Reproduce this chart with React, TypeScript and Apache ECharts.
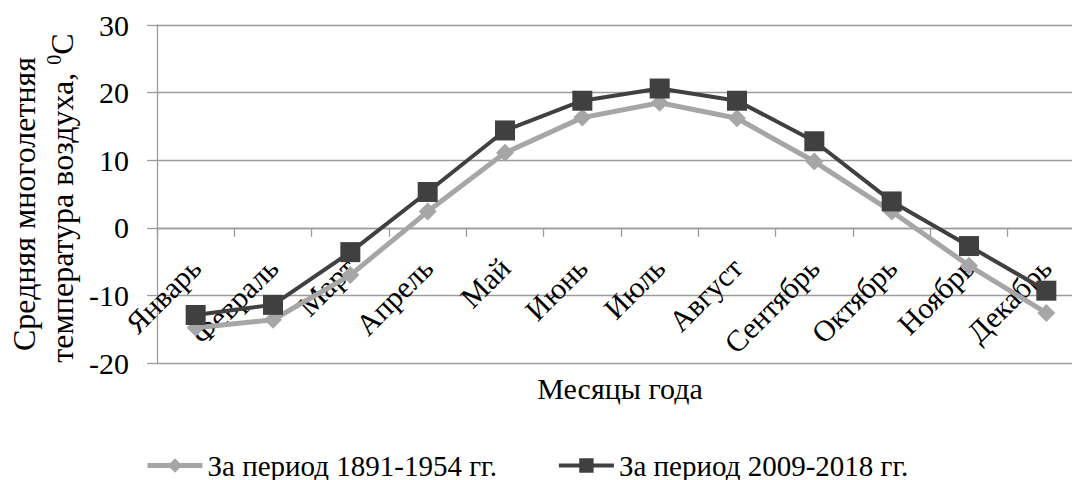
import React, { useEffect, useRef, useState } from "react";
import * as echarts from "echarts";

const months = ["Январь", "Февраль", "Март", "Апрель", "Май", "Июнь", "Июль", "Август", "Сентябрь", "Октябрь", "Ноябрь", "Декабрь"];
const period1 = [-14.8, -13.6, -7.0, 2.4, 11.1, 16.3, 18.5, 16.2, 9.8, 2.4, -5.6, -12.6];
const period2 = [-12.9, -11.4, -3.6, 5.3, 14.4, 18.8, 20.6, 18.8, 12.8, 3.9, -2.7, -9.3];
const seriesNames = ["За период 1891-1954 гг.", "За период 2009-2018 гг."];
const yTitle1 = "Средняя многолетняя";
const yTitle2 = "температура воздуха, ";
const xTitle = "Месяцы года";

const FONT = "Liberation Serif";
const GRAY = "#9c9c9c";
const LIGHT = "#a6a6a6";
const DARK = "#404040";

export default function App() {
  const ref = useRef<HTMLDivElement>(null);
  const [, setReady] = useState("");
  useEffect(() => {
    document.body.style.margin = "0";
    const chart = echarts.init(ref.current!, null, { renderer: "svg" });
    chart.setOption({
      animation: false,
      grid: { left: 157, top: 25, width: 928, height: 338, outerBoundsMode: "none" },
      xAxis: {
        type: "category",
        data: months,
        offset: -135.2,
        axisLine: { onZero: false, lineStyle: { color: GRAY, width: 1.3 } },
        axisTick: { show: true, interval: 0, length: 9, lineStyle: { color: GRAY, width: 1.3 } },
        axisLabel: { interval: 0, rotate: 45, margin: 35, fontSize: 30, fontFamily: FONT, color: "#000" },
      },
      yAxis: {
        type: "value",
        min: -20,
        max: 30,
        interval: 10,
        axisLine: { show: true, lineStyle: { color: GRAY, width: 1.3 } },
        axisTick: { show: true, length: 10, lineStyle: { color: GRAY, width: 1.3 } },
        splitLine: { show: true, lineStyle: { color: GRAY, width: 1.3 } },
        axisLabel: { fontSize: 30, fontFamily: FONT, color: "#000", margin: 28 },
      },
      legend: {
        left: 140,
        top: 446,
        itemWidth: 55,
        itemHeight: 18,
        itemGap: 60,
        textStyle: { fontSize: 29, fontFamily: FONT, color: "#000" },
        data: [
          { name: seriesNames[0], lineStyle: { width: 5, color: LIGHT }, itemStyle: { color: LIGHT } },
          { name: seriesNames[1], lineStyle: { width: 4, color: DARK }, itemStyle: { color: DARK } },
        ],
      },
      graphic: [
        {
          type: "text",
          x: 24,
          y: 204,
          rotation: Math.PI / 2,
          style: { text: yTitle1, fontSize: 32, fontFamily: FONT, fill: "#000", align: "center", verticalAlign: "middle" },
        },
        {
          type: "text",
          x: 62,
          y: 198,
          rotation: Math.PI / 2,
          style: {
            text: "{a|" + yTitle2 + "}{s|0}{a|C}",
            fontSize: 32,
            fontFamily: FONT,
            fill: "#000",
            align: "center",
            verticalAlign: "middle",
            rich: {
              a: { fontSize: 32, fontFamily: FONT, fill: "#000", lineHeight: 36 },
              s: { fontSize: 20, fontFamily: FONT, fill: "#000", verticalAlign: "top", lineHeight: 36 },
            },
          },
        },
        {
          type: "text",
          x: 620,
          y: 388,
          style: { text: xTitle, fontSize: 30, fontFamily: FONT, fill: "#000", align: "center", verticalAlign: "middle" },
        },
      ],
      series: [
        {
          name: seriesNames[0],
          type: "line",
          data: period1,
          symbol: "diamond",
          symbolSize: 18,
          lineStyle: { color: LIGHT, width: 5 },
          itemStyle: { color: LIGHT },
          z: 2,
        },
        {
          name: seriesNames[1],
          type: "line",
          data: period2,
          symbol: "rect",
          symbolSize: 20,
          lineStyle: { color: DARK, width: 4 },
          itemStyle: { color: DARK },
          z: 3,
        },
      ],
    });
    const texts = ref.current!.querySelectorAll("text");
    let fam = "";
    texts.forEach((t) => {
      fam = getComputedStyle(t).fontFamily;
    });
    setReady(fam);
    return () => chart.dispose();
  }, []);
  return <div ref={ref} style={{ width: 1072, height: 480 }} />;
}
